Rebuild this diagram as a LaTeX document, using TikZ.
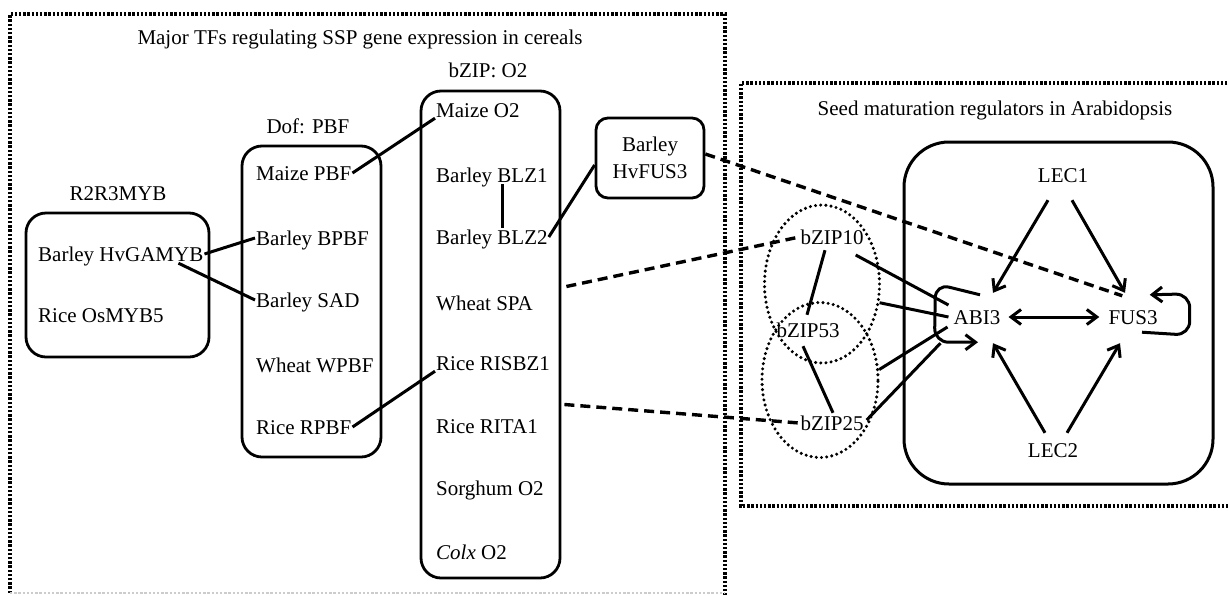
\documentclass[tikz,border=0pt]{standalone}
\usepackage{fontspec}
\setmainfont{Liberation Serif}
\usetikzlibrary{arrows.meta,calc,shapes.geometric}

\begin{document}
\begin{tikzpicture}[x=1pt,y=-1pt,
  >={Straight Barb[length=10pt,width=15pt]},
  lbl/.style={font=\fontsize{21}{27}\selectfont, inner sep=1pt, text height=14pt, text depth=0pt},
  item/.style={lbl, anchor=west},
  famBox/.style={draw, line width=2.8pt, rounded corners=20pt, inner sep=0pt},
  panel/.style={line width=3.4pt, dash pattern=on 2.4pt off 1.8pt},
  link/.style={line width=3pt},
  ortho/.style={line width=3.4pt, dash pattern=on 10pt off 6pt},
  ring/.style={draw, ellipse, line width=3.4pt, line cap=round, dash pattern=on 0pt off 5.2pt, inner sep=0pt},
  act/.style={line width=3pt, ->},
]
\useasboundingbox (0,0) rectangle (1228,595);

% ---- panel frames ----
\draw[panel] (10,593) -- (10,14) -- (725,14) -- (725,595);
\draw[panel, gray!40, line width=2.4pt] (10,593) -- (725,593);
\draw[panel] (1240,83) -- (741,83) -- (741,506) -- (1240,506);

% ---- cereal TF families ----
\node[lbl] (title) at (360,37) {Major TFs regulating SSP gene expression in cereals};

\node[lbl] (mybhead) at (118,193) {R2R3MYB};
\node[famBox, minimum width=183pt, minimum height=144pt] (mybbox) at (117.5,285) {};
\node[item] (gamyb) at (37,254) {Barley HvGAMYB};
\node[item] (osmyb) at (37,315) {Rice OsMYB5};

\node[lbl] (dofhead) at (308,126) {Dof: PBF};
\node[famBox, minimum width=139pt, minimum height=311pt] (dofbox) at (311.5,301.5) {};
\node[item] (maizepbf) at (255,173) {Maize PBF};
\node[item] (bpbf) at (255,238) {Barley BPBF};
\node[item] (sad) at (255,300) {Barley SAD};
\node[item] (wpbf) at (255,365) {Wheat WPBF};
\node[item] (rpbf) at (255,427) {Rice RPBF};

\node[lbl] (bziphead) at (488,70) {bZIP: O2};
\node[famBox, minimum width=139pt, minimum height=487pt] (bzipbox) at (490.5,334.5) {};
\node[item] (maizeo2) at (435,110) {Maize O2};
\node[item] (blz1) at (435,175) {Barley BLZ1};
\node[item] (blz2) at (435,237) {Barley BLZ2};
\node[item] (spa) at (435,303) {Wheat SPA};
\node[item] (risbz1) at (435,363) {Rice RISBZ1};
\node[item] (rita1) at (435,426) {Rice RITA1};
\node[item] (sorghum) at (435,488) {Sorghum O2};
\node[item] (colx) at (435,552) {\textit{Colx} O2};

\node[famBox, rounded corners=12pt, minimum width=108pt, minimum height=80pt,
      align=center, font=\fontsize{21}{27}\selectfont] (hvfus3) at (650,158) {Barley\\HvFUS3};

% interactions among cereal factors
\draw[link] (gamyb.east) -- (bpbf.west);
\draw[link] ($(gamyb.south east)+(-26,1)$) -- (sad.west);
\draw[link] (maizepbf.east) -- (maizeo2.south west);
\draw[link] ($(blz1.south)+(11,1)$) -- ($(blz2.north)+(11,-1)$);
\draw[link] (blz2.east) -- ($(hvfus3.west)+(0,7)$);
\draw[link] (rpbf.east) -- (risbz1.south west);

% ---- Arabidopsis regulators ----
\node[lbl] (arabtitle) at (995,108) {Seed maturation regulators in Arabidopsis};
\node[famBox, rounded corners=45pt, line width=3pt, minimum width=309pt, minimum height=342pt] (arabox) at (1058.5,313) {};

\node[ring, minimum width=115pt, minimum height=158pt] (ring1) at (822,284) {};
\node[ring, minimum width=116pt, minimum height=155pt] (ring2) at (820,380) {};

\node[lbl] (bzip10) at (832,237) {bZIP10};
\node[lbl] (bzip53) at (808,330) {bZIP53};
\node[lbl] (bzip25) at (832,423) {bZIP25};

\node[lbl] (lec1) at (1063,175) {LEC1};
\node[lbl] (abi3) at (977,317) {ABI3};
\node[lbl] (fus3) at (1133,317) {FUS3};
\node[lbl] (lec2) at (1053,450) {LEC2};

% orthologous relations
\draw[ortho] ($(hvfus3.east)+(0,-4)$) -- ($(fus3.north west)+(15,-13)$);
\coordinate (spaout) at ($(bzipbox.east)+(5,-48)$);
\coordinate (ritaout) at ($(bzipbox.east)+(3,70)$);
\draw[ortho] (spaout) -- (bzip10.west);
\draw[ortho] (ritaout) -- (bzip25.west);

% bZIP dimers and their links to ABI3
\draw[link] ($(bzip10.south)+(-7,5)$) -- ($(bzip53.north)+(-1,-7)$);
\draw[link] ($(bzip53.south)+(-5,8)$) -- ($(bzip25.north)+(1,-2)$);
\draw[link] ($(bzip10.east)+(-9,18)$) -- ($(abi3.west)+(-4,-12)$);
\draw[link] (ring1.-18) -- ($(abi3.west)+(-4,0)$);
\draw[link] (ring2.10) -- ($(abi3.west)+(-5,10)$);
\draw[link] ($(bzip25.east)+(2,-3)$) -- ($(abi3.south west)+(-12,18)$);

% regulatory network
\draw[act] ($(lec1.south)+(-15,17)$) -- ($(abi3.north)+(16,-16)$);
\draw[act] ($(lec1.south)+(9,17)$) -- ($(fus3.north)+(-8,-16)$);
\draw[act] ($(lec2.north)+(-8,-9)$) -- ($(abi3.south)+(16,18)$);
\draw[act] ($(lec2.north)+(14,-9)$) -- ($(fus3.south)+(-13,18)$);
\draw[act, <->] ($(abi3.east)+(7,0)$) -- ($(fus3.west)+(-8,0)$);
\draw[act, rounded corners=14pt] ($(abi3.north)+(3,-14)$) -- ($(abi3.north west)+(-17,-25)$)
  -- ($(abi3.south west)+(-18,17)$) -- ($(abi3.south)+(1,17)$);
\draw[act, rounded corners=14pt] ($(fus3.south)+(9,7)$) -- ($(fus3.south east)+(31,10)$)
  -- ($(fus3.north east)+(31,-15)$) -- ($(fus3.north east)+(-9,-14)$);
\end{tikzpicture}
\end{document}
